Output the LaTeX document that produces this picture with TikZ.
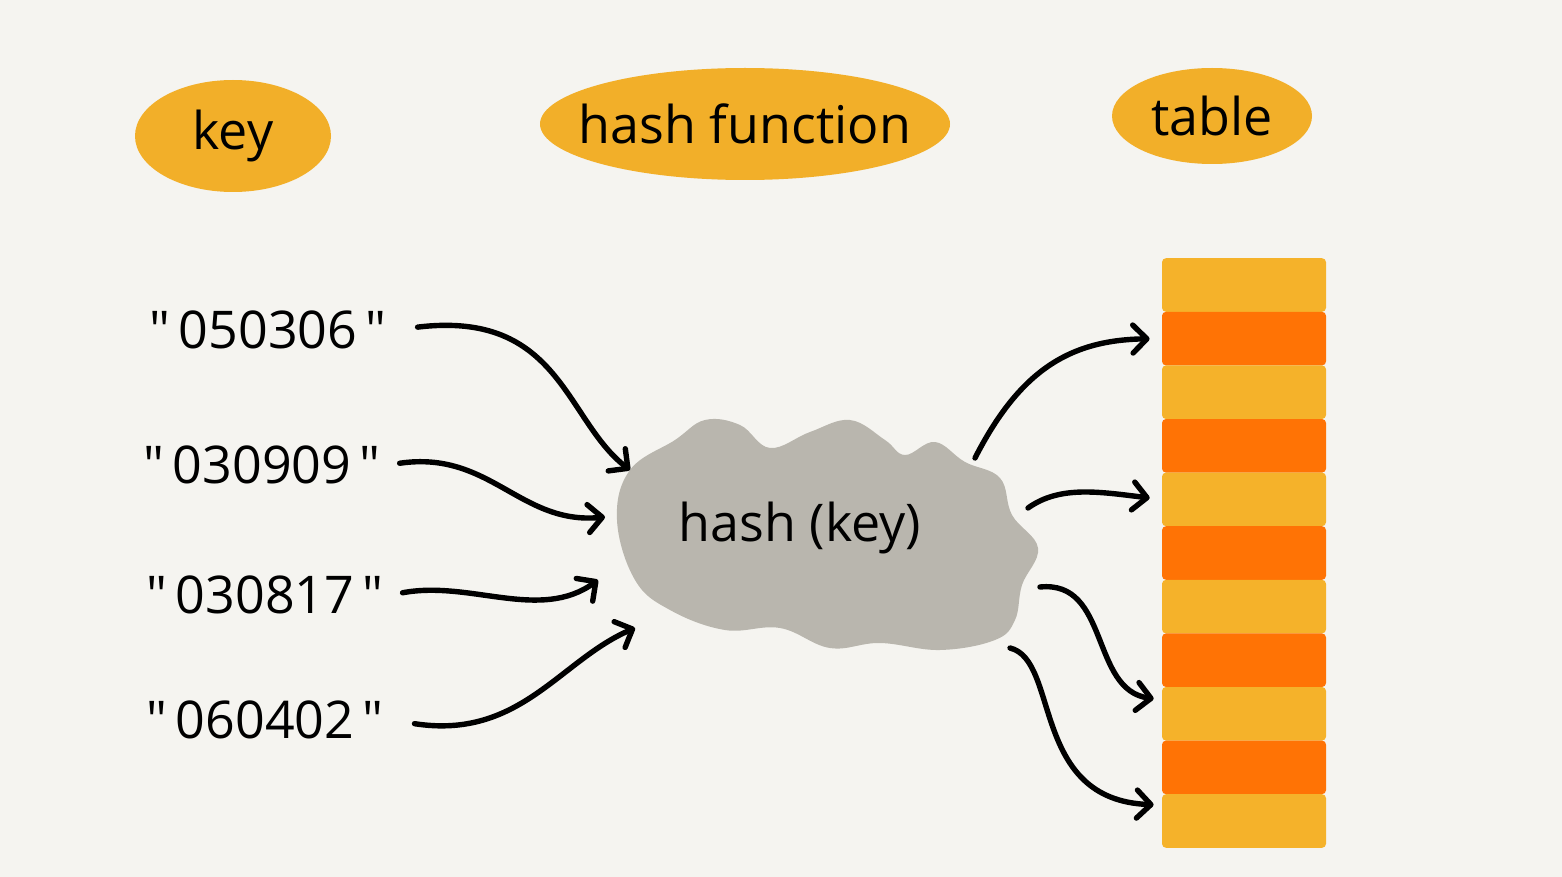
\documentclass[tikz,border=0pt]{standalone}
\usepackage{fontspec}
\setmainfont{Open Sans}
\usetikzlibrary{shapes.geometric,arrows.meta,positioning}
\definecolor{paper}{HTML}{F5F4F0}
\definecolor{tag}{HTML}{F2AF29}
\definecolor{slotA}{HTML}{F5B22A}
\definecolor{slotB}{HTML}{FF7305}
\definecolor{blob}{HTML}{B9B6AE}

\begin{document}
\begin{tikzpicture}[
    x=0.5pt, y=-0.5pt,
    tagstyle/.style  = {ellipse,
                        fill=tag,
                        inner sep=0pt,
                        font=\fontsize{26}{30}\selectfont},
    keystyle/.style  = {font=\fontsize{26}{30}\selectfont},
    slotstyle/.style = {minimum width=82pt,
                        minimum height=26.8pt,
                        inner sep=0pt,
                        rounded corners=2pt},
    arr/.style       = {line width=2.7pt,
                        line cap=round,
                        -{Straight Barb[length=7pt,width=14pt,round]}}
]
\fill[paper] (0,0) rectangle (1562,877);

\node (tkey) [tagstyle, minimum width=98pt, minimum height=56pt] at (233,136) {key};
\node (thash) [tagstyle, inner xsep=-12pt, minimum width=205pt, minimum height=56pt] at (745,124) {hash function};
\node (ttable) [tagstyle, minimum width=100pt, minimum height=48pt] at (1212,116) {table};

\node (k1) [keystyle] at (268,330) {\textquotedbl\,050306\,\textquotedbl};
\node (k2) [keystyle] at (262,465) {\textquotedbl\,030909\,\textquotedbl};
\node (k3) [keystyle] at (265,595) {\textquotedbl\,030817\,\textquotedbl};
\node (k4) [keystyle] at (265,720) {\textquotedbl\,060402\,\textquotedbl};

\fill[blob] plot[smooth cycle, tension=0.65] coordinates {
    (617,520) (630,470) (675,440) (705,420) (740,425) (770,448)
    (810,432) (850,420) (885,440) (905,455) (935,442) (965,462)
    (1000,478) (1012,515) (1038,548) (1022,585) (1015,620) (995,640)
    (940,650) (880,643) (830,648) (780,628) (725,630) (670,610)
    (635,580)};
\node (hk) [keystyle] at (800,528) {hash (key)};

\foreach \i/\c in {1/slotA,2/slotB,3/slotA,4/slotB,5/slotA,6/slotB,
                   7/slotA,8/slotB,9/slotA,10/slotB,11/slotA}
    \node (row\i) [slotstyle, fill=\c] at (1244,{285+53.6*(\i-1)}) {};

\coordinate (in1) at (630,470);
\coordinate (in2) at (605,517);
\coordinate (in3) at (598,580);
\coordinate (in4) at (635,628);
\coordinate (out1) at (975,458);
\coordinate (out2) at (1028,508);
\coordinate (out3) at (1040,587);
\coordinate (out4) at (1010,648);

\draw[arr, shorten <=12pt] (k1.east) .. controls (560,310) and (565,420) .. (in1);
\draw[arr, shorten <=6pt] (k2.east) .. controls (490,450) and (520,525) .. (in2);
\draw[arr, shorten <=6pt] (k3.east) .. controls (470,580) and (540,622) .. (in3);
\draw[arr, shorten <=12pt] (k4.east) .. controls (520,740) and (560,660) .. (in4);

\draw[arr, shorten >=6pt] (out1) .. controls (1020,370) and (1070,340) .. (row2.west);
\draw[arr, shorten >=6pt] (out2) .. controls (1060,485) and (1100,492) .. (row5.west);
\draw[arr, shorten >=4pt] (out3) .. controls (1110,580) and (1090,690) .. ([yshift=7pt]row9.west);
\draw[arr, shorten >=4pt] (out4) .. controls (1060,660) and (1030,800) .. ([yshift=8pt]row11.west);

\end{tikzpicture}
\end{document}
